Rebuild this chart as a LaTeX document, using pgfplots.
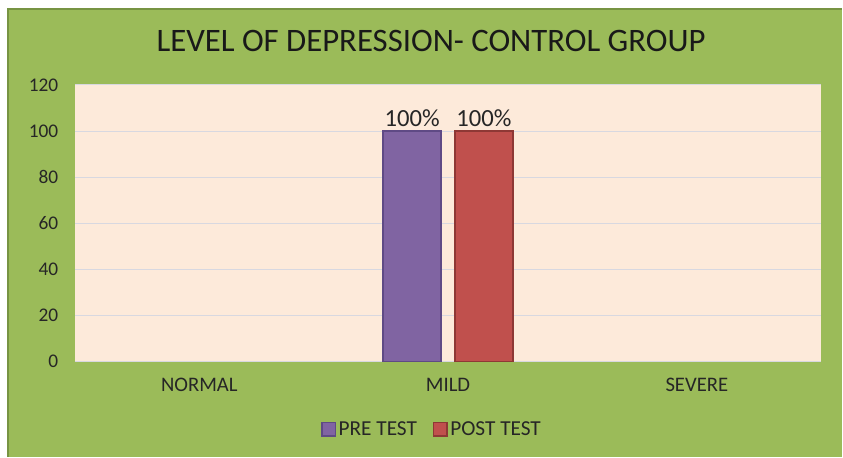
\documentclass[border=0pt]{standalone}
\usepackage{pgfplots}
\pgfplotsset{compat=1.18}
\usepackage{fontspec}
\setmainfont{Carlito}
\definecolor{bggreen}{HTML}{9BBB59}
\definecolor{edgegreen}{HTML}{779443}
\definecolor{plotbg}{HTML}{FDEADA}
\definecolor{pre}{HTML}{8064A2}
\definecolor{preedge}{HTML}{5F4A85}
\definecolor{post}{HTML}{C0504D}
\definecolor{postedge}{HTML}{8E3835}
\definecolor{gridc}{HTML}{D8D8E0}
\begin{document}
\begin{tikzpicture}
\fill[white] (0pt,0pt) rectangle (632.25pt,342.75pt);
\fill[bggreen] (5.25pt,0pt) rectangle (632.25pt,336.75pt);
\draw[edgegreen, line width=1.2pt] (5.85pt,0pt) -- (5.85pt,336.15pt) -- (632.25pt,336.15pt);
\node[font=\fontsize{24.6}{28}\selectfont, anchor=base, inner sep=0pt, text=black!90] at (323.6pt,303.75pt) {LEVEL OF DEPRESSION- CONTROL GROUP};
\begin{axis}[
  at={(56.25pt,71.25pt)}, anchor=south west,
  scale only axis, width=560.25pt, height=207.75pt,
  ybar, bar width=0.233,
  xmin=-0.5, xmax=2.5, ymin=0, ymax=120,
  xtick={0,1,2}, xticklabels={NORMAL,MILD,SEVERE},
  ytick={0,20,...,120},
  axis background/.style={fill=plotbg},
  axis line style={draw=none},
  major tick length=0pt,
  ymajorgrids, grid style={gridc, line width=0.7pt},
  /pgf/number format/assume math mode=true,
  tick label style={font=\fontsize{14.5}{16}\selectfont, text=black!85},
  yticklabel style={xshift=-9pt},
  xticklabel style={yshift=-9pt, font=\fontsize{15.5}{17}\selectfont},
  nodes near coords={\pgfmathprintnumber{\pgfplotspointmeta}\%},
  every node near coord/.append style={font=\fontsize{18.5}{20}\selectfont, text=black!85, yshift=-1pt},
  legend columns=2,
  legend style={at={(0.479,-0.245)}, anchor=center, draw=none, fill=none,
    font=\fontsize{16}{18}\selectfont, text=black!85,
    /tikz/every even column/.append style={column sep=10pt}},
  legend image code/.code={\draw[#1, line width=1pt] (0pt,-5pt) rectangle (10pt,5pt);},
]
\addplot[fill=pre, draw=preedge, line width=1.2pt, bar shift=-0.144] coordinates {(1,100)};
\addplot[fill=post, draw=postedge, line width=1.2pt, bar shift=0.144] coordinates {(1,100)};
\legend{PRE TEST, POST TEST}
\end{axis}
\end{tikzpicture}
\end{document}
